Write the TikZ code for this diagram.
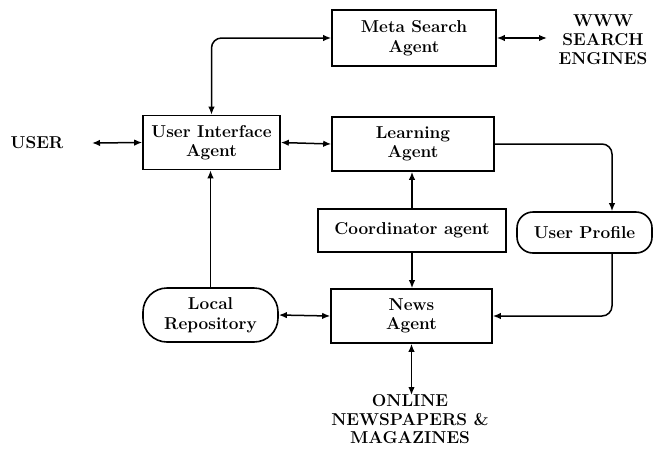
\documentclass[tikz,border=0pt]{standalone}
\usetikzlibrary{arrows.meta}
\begin{document}
\begin{tikzpicture}[x=1pt,y=-1pt,
  every node/.style={font=\fontsize{17.2}{19.5}\selectfont\bfseries, align=center, inner sep=0pt},
  agentbox/.style={draw, line width=1.6pt},
  roundbox/.style={draw, line width=1.6pt},
  conn/.style={line width=1.5pt, {Latex[length=8pt,width=6.5pt]}-{Latex[length=8pt,width=6.5pt]}},
  oneway/.style={line width=1.5pt, -{Latex[length=8pt,width=6.5pt]}}
]
\useasboundingbox (0,0) rectangle (655,448);
\node[agentbox, minimum width=164pt, minimum height=56pt] (meta) at (414,38) {Meta Search\\Agent};
\node[font=\fontsize{17.2}{19}\selectfont\bfseries] (www) at (603,40) {WWW\\SEARCH\\ENGINES};
\coordinate (wwwa) at (547,38);
\node[agentbox, minimum width=137pt, minimum height=54pt] (uia) at (211.5,142.5) {User Interface\\Agent};
\node[agentbox, minimum width=162pt, minimum height=54pt] (learn) at (413,144) {Learning\\Agent};
\node (user) at (37,143) {USER};
\coordinate (usera) at (92,143);
\node[agentbox, minimum width=188pt, minimum height=43pt] (coord) at (412,230.5) {Coordinator agent};
\node[roundbox, rounded corners=16pt, minimum width=135pt, minimum height=41pt] (up) at (584.5,232.5) {User Profile};
\coordinate (upx) at (612,0);
\node[roundbox, rounded corners=24pt, minimum width=135pt, minimum height=54pt] (local) at (210.5,315) {Local\\Repository};
\node[agentbox, minimum width=161pt, minimum height=54pt] (news) at (411.5,316) {News\\Agent};
\coordinate (onlinea) at (411.5,395);
\node[font=\fontsize{17.2}{18.5}\selectfont\bfseries] (online) at (410,419.5) {ONLINE\\NEWSPAPERS \&\\MAGAZINES};

\draw[conn, rounded corners=10pt] (meta.west) -| (uia.north);
\draw[conn] (meta.east) -- (wwwa);
\draw[conn] (usera) -- (uia.west);
\draw[conn] (uia.east) -- (learn.west);
\draw[oneway, rounded corners=10pt] (learn.east) -| (upx |- up.north);
\draw[oneway] (coord.north) -- (coord.north |- learn.south);
\draw[oneway] (coord.south) -- (coord.south |- news.north);
\draw[oneway, rounded corners=10pt] (upx |- up.south) |- (news.east);
\draw[oneway] (local.north) -- (local.north |- uia.south);
\draw[conn] (local.east) -- (news.west);
\draw[conn] (news.south) -- (onlinea);
\end{tikzpicture}
\end{document}
